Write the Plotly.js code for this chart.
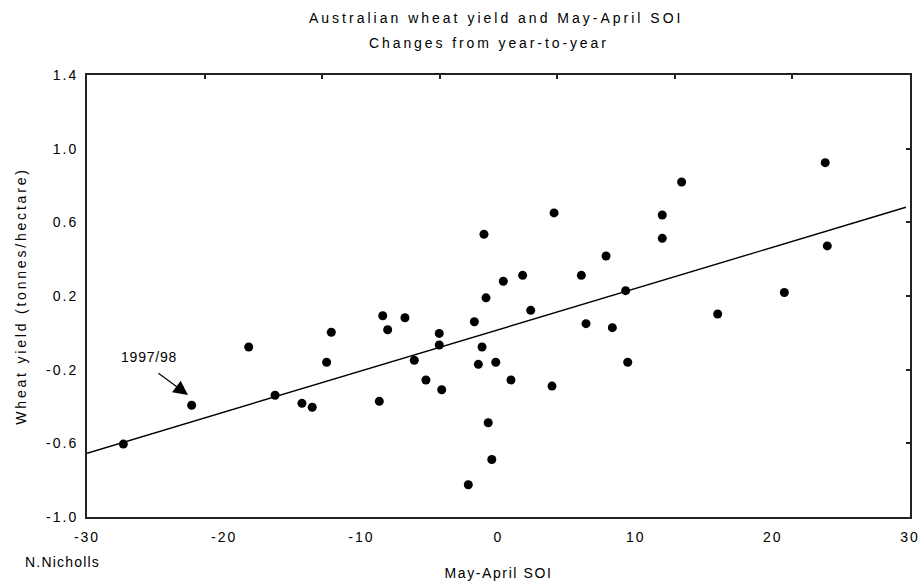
<!DOCTYPE html>
<html>
<head>
<meta charset="utf-8">
<script src="https://cdn.plot.ly/plotly-3.0.1.min.js"></script>
<style>
  html, body { margin: 0; padding: 0; background: #ffffff; }
  #chart { width: 923px; height: 582px; }
</style>
</head>
<body>
<div id="chart"></div>
<script>
// ---- Data ----
const soi = [
  -27.35, -22.37, -18.21, -16.29, -14.33, -13.58, -12.53, -12.19, -8.69, -8.44,
  -8.08, -6.82, -6.14, -5.29, -4.32, -4.32, -4.14, -2.20, -1.76, -1.20,
  -1.47, -0.91, -0.75, -0.49, -0.20, -1.06, 0.35, 1.76, 0.91, 2.35,
  3.90, 4.05, 6.04, 6.38, 7.84, 8.30, 9.27, 9.42, 11.94, 11.94,
  13.35, 15.98, 20.84, 23.82, 23.97
];
const yieldChange = [
  -0.604, -0.393, -0.077, -0.339, -0.383, -0.404, -0.160, 0.003, -0.372, 0.093,
  0.017, 0.082, -0.149, -0.256, -0.003, -0.066, -0.309, -0.825, 0.060, -0.077,
  -0.171, 0.190, -0.488, -0.688, -0.160, 0.535, 0.280, 0.312, -0.256, 0.122,
  -0.289, 0.651, 0.312, 0.050, 0.417, 0.028, 0.229, -0.160, 0.640, 0.513,
  0.819, 0.102, 0.219, 0.924, 0.472
];
// fitted line end points
const trendX = [-30, 29.7];
const trendY = [-0.654, 0.682];

const xTickVals = [-30, -20, -10, 0, 10, 20, 30];
const xTickText = ['-30', '-20', '-10', '0', '10', '20', '30'];
const yTickVals = [-1.0, -0.6, -0.2, 0.2, 0.6, 1.0, 1.4];
const yTickText = ['-1.0', '-0.6', '-0.2', '0.2', '0.6', '1.0', '1.4'];

const titleLine1 = 'Australian wheat yield and May-April SOI';
const titleLine2 = 'Changes from year-to-year';
const xTitle = 'May-April SOI';
const yTitle = 'Wheat yield (tonnes/hectare)';
const credit = 'N.Nicholls';
const noteLabel = '1997/98';
const noteX = -22.64, noteY = -0.338;

// ---- helpers ----
const sp = (s, ls) => '<span style="letter-spacing:' + ls + 'px">' + s + '</span>';
const FONT = 'Liberation Sans, Arial, sans-serif';
const FS = 14;

const traces = [
  {
    x: trendX, y: trendY, type: 'scatter', mode: 'lines',
    line: { color: '#000000', width: 1.4 },
    hoverinfo: 'skip', showlegend: false
  },
  {
    x: soi, y: yieldChange, type: 'scatter', mode: 'markers',
    marker: { color: '#000000', size: 9, line: { width: 0 } },
    showlegend: false
  },
  // invisible traces to carry the top/right tick axes
  { x: [3], y: [0], xaxis: 'x2', yaxis: 'y', mode: 'markers', marker: { opacity: 0 }, hoverinfo: 'skip', showlegend: false },
  { x: [0], y: [0], xaxis: 'x', yaxis: 'y2', mode: 'markers', marker: { opacity: 0 }, hoverinfo: 'skip', showlegend: false }
];

const layout = {
  width: 923, height: 582,
  margin: { l: 87, r: 13, t: 75, b: 65 },
  paper_bgcolor: '#ffffff', plot_bgcolor: '#ffffff',
  font: { family: FONT, size: FS, color: '#000000' },
  showlegend: false,
  xaxis: {
    range: [-30, 30], tickvals: xTickVals,
    ticktext: xTickText.map(t => sp(t, 2)),
    ticks: '', showgrid: false, zeroline: false, ticklabelstandoff: 6,
    showline: true, mirror: false, linecolor: '#222222', linewidth: 2,
    tickfont: { family: FONT, size: FS, color: '#000000' },
    title: { text: sp(xTitle, 1.6), font: { family: FONT, size: FS, color: '#000000' }, standoff: 24 },
    automargin: false
  },
  yaxis: {
    range: [-1.0, 1.4], tickvals: yTickVals,
    ticktext: yTickText.map(t => sp(t, 2)),
    ticks: '', showgrid: false, zeroline: false, ticklabelstandoff: 4,
    showline: true, mirror: false, linecolor: '#222222', linewidth: 2,
    tickfont: { family: FONT, size: FS, color: '#000000' },
    title: { text: sp(yTitle, 2.8), font: { family: FONT, size: FS, color: '#000000' }, standoff: 16 },
    automargin: false
  },
  xaxis2: {
    overlaying: 'x', side: 'top', range: [0, 7], tickvals: [1, 2, 3, 4, 5, 6],
    ticks: 'inside', ticklen: 4, tickwidth: 2, tickcolor: '#222222',
    showticklabels: false, showgrid: false, zeroline: false,
    showline: true, linecolor: '#222222', linewidth: 2
  },
  yaxis2: {
    overlaying: 'y', side: 'right', range: [-1.0, 1.4], tickvals: [-0.6, -0.2, 0.2, 0.6, 1.0],
    ticks: 'inside', ticklen: 4, tickwidth: 2, tickcolor: '#222222',
    showticklabels: false, showgrid: false, zeroline: false,
    showline: true, linecolor: '#222222', linewidth: 2
  },
  annotations: [
    { text: sp(titleLine1, 3.0), xref: 'paper', yref: 'paper', x: 0.497, y: (517 - 18) / 442,
      xanchor: 'center', yanchor: 'middle', showarrow: false, font: { family: FONT, size: FS, color: '#000000' } },
    { text: sp(titleLine2, 2.9), xref: 'paper', yref: 'paper', x: 0.488, y: (517 - 43) / 442,
      xanchor: 'center', yanchor: 'middle', showarrow: false, font: { family: FONT, size: FS, color: '#000000' } },
    { text: sp(credit, 1.2), xref: 'paper', yref: 'paper', x: -25 / 823, y: -45 / 442,
      xanchor: 'center', yanchor: 'middle', showarrow: false, font: { family: FONT, size: FS, color: '#000000' } },
    { text: sp(noteLabel, 0.8), x: noteX, y: noteY, xref: 'x', yref: 'y',
      showarrow: false, xshift: -39, yshift: 38, xanchor: 'center', yanchor: 'middle',
      font: { family: FONT, size: FS, color: '#000000' } },
    { text: '', x: noteX, y: noteY, xref: 'x', yref: 'y',
      showarrow: true, ax: -31, ay: -23, arrowhead: 2, arrowsize: 2.4, arrowwidth: 1.2,
      arrowcolor: '#000000', standoff: 0 }
  ]
};

Plotly.newPlot('chart', traces, layout, { staticPlot: true, displayModeBar: false });
</script>
</body>
</html>
